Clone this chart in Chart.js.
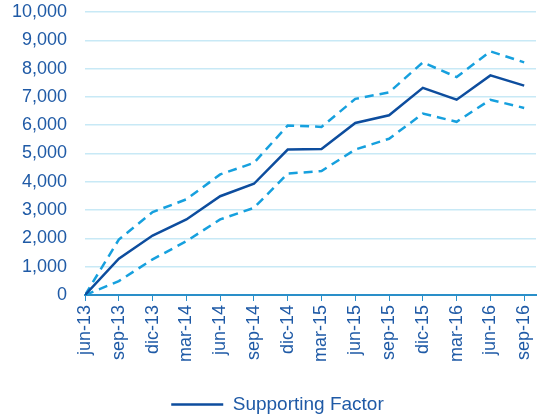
<!DOCTYPE html>
<html>
<head>
<meta charset="utf-8">
<script src="https://cdn.jsdelivr.net/npm/chart.js@4"></script>
<style>
  html, body { margin: 0; padding: 0; background: #fff; }
  #wrap { width: 551px; height: 418px; }
</style>
</head>
<body>
<div id="wrap"><canvas id="graf" width="551" height="418"></canvas></div>
<script>
// kvartaler og verdier lest av bildet
const kvartaler = ['jun-13', 'sep-13', 'dic-13', 'mar-14', 'jun-14', 'sep-14', 'dic-14',
                   'mar-15', 'jun-15', 'sep-15', 'dic-15', 'mar-16', 'jun-16', 'sep-16'];
const supportingFactor = [0, 1280, 2100, 2670, 3490, 3930, 5140, 5160, 6080, 6350, 7320, 6900, 7760, 7400];
const ovreGrense = [0, 1960, 2930, 3380, 4260, 4670, 5990, 5940, 6930, 7160, 8220, 7700, 8610, 8220];
const nedreGrense = [0, 490, 1260, 1900, 2670, 3080, 4290, 4380, 5140, 5520, 6410, 6120, 6900, 6610];

const tekstFarge = '#1f5aa6';
const font = 'Arial, "Liberation Sans", sans-serif';

// x som indeks, slik at aksen kan gå litt forbi siste kvartal
const punkter = serie => serie.map((v, i) => ({ x: i, y: v }));

new Chart(document.getElementById('graf').getContext('2d'), {
    type: 'line',
    data: {
        datasets: [
            {
                label: 'Supporting Factor',
                data: punkter(supportingFactor),
                borderColor: '#0d4d9e',
                borderWidth: 2.5,
                pointRadius: 0,
                tension: 0,
                fill: false
            },
            {
                label: 'upper',
                data: punkter(ovreGrense),
                borderColor: '#16a0de',
                borderWidth: 2.5,
                borderDash: [9, 6],
                pointRadius: 0,
                tension: 0,
                fill: false
            },
            {
                label: 'lower',
                data: punkter(nedreGrense),
                borderColor: '#16a0de',
                borderWidth: 2.5,
                borderDash: [9, 6],
                pointRadius: 0,
                tension: 0,
                fill: false
            }
        ]
    },
    options: {
        responsive: false,
        animation: false,
        layout: { padding: { top: 12, right: -4, left: 0, bottom: -6 } },
        plugins: {
            tooltip: { enabled: false },
            legend: {
                position: 'bottom',
                labels: {
                    filter: item => item.datasetIndex === 0,
                    usePointStyle: true,
                    pointStyle: 'line',
                    pointStyleWidth: 52,
                    color: tekstFarge,
                    font: { family: font, size: 19 },
                    padding: 0
                }
            }
        },
        scales: {
            x: {
                type: 'linear',
                min: 0,
                max: 13.35,
                // én tick per kvartal
                afterBuildTicks: s => { s.ticks = kvartaler.map((k, i) => ({ value: i })); },
                afterFit: s => { s.height += 29; s.paddingRight = 15; },
                grid: {
                    drawOnChartArea: false,
                    drawTicks: true,
                    tickLength: 6,
                    tickColor: '#2a8fc9'
                },
                border: { display: true, color: '#2a8fc9', width: 2 },
                ticks: {
                    stepSize: 1,
                    color: tekstFarge,
                    font: { family: font, size: 18 },
                    maxRotation: 90,
                    minRotation: 90,
                    autoSkip: false,
                    padding: 4,
                    callback: v => kvartaler[v] ?? ''
                }
            },
            y: {
                min: 0,
                max: 10000,
                afterFit: s => { s.width -= 6; s.paddingTop = 2; s.paddingBottom = 2; },
                grid: { color: '#c8e9f6', lineWidth: 1.5, drawTicks: false },
                border: { display: false },
                ticks: {
                    stepSize: 1000,
                    color: tekstFarge,
                    font: { family: font, size: 18 },
                    padding: 18,
                    callback: v => v.toLocaleString('en-US')
                }
            }
        }
    }
});
</script>
</body>
</html>
